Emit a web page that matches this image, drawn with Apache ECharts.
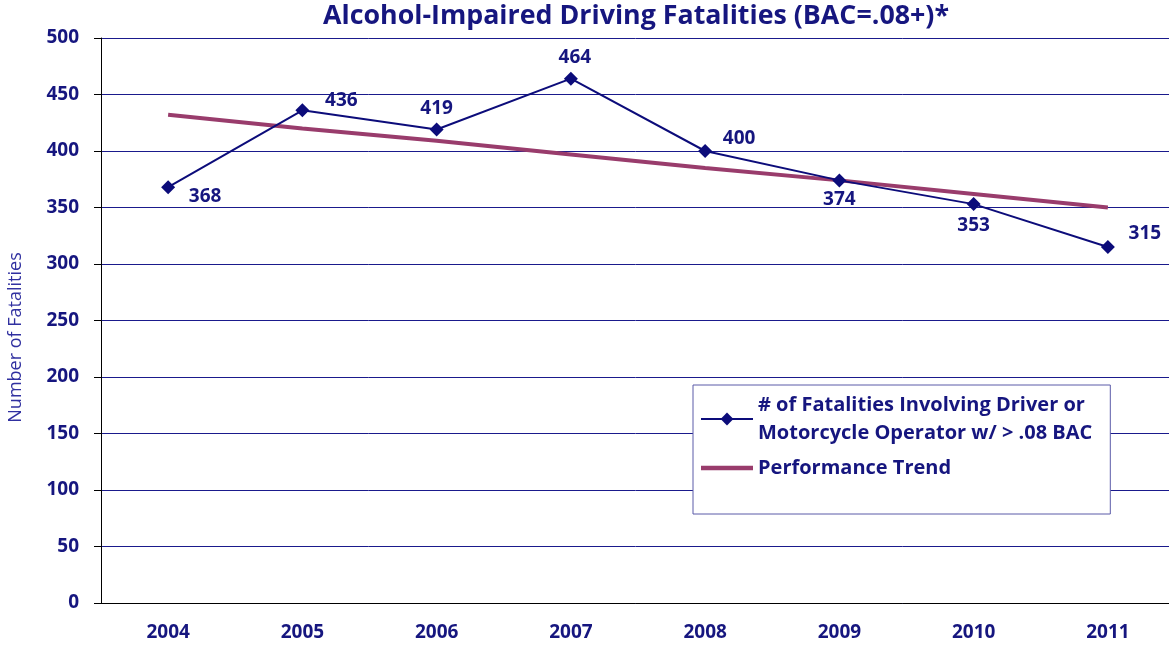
<!DOCTYPE html>
<html>
<head>
<meta charset="utf-8">
<title>Alcohol-Impaired Driving Fatalities</title>
<script src="https://cdn.jsdelivr.net/npm/echarts@6/dist/echarts.min.js"></script>
<style>
  html, body { margin: 0; padding: 0; background: #fff; }
  #chart { width: 1169px; height: 645px; }
</style>
</head>
<body>
<div id="chart"></div>
<script>
// 数据
const years = ["2004", "2005", "2006", "2007", "2008", "2009", "2010", "2011"];
const fatalities = [368, 436, 419, 464, 400, 374, 353, 315];
const trend = [432, 420, 409, 397, 385, 374, 362, 350];
const yTicks = [0, 50, 100, 150, 200, 250, 300, 350, 400, 450, 500];

const navy = "#16167f";
const font = "'Open Sans', Lato, sans-serif";

// 每个数据标签的偏移
const labelOffsets = [[37, 9], [39, -10], [0, -21], [4, -21], [34, -12], [0, 19], [0, 21], [37, -13]];

const myChart = echarts.init(document.getElementById("chart"));

const option = {
  animation: false,
  title: {
    text: "Alcohol-Impaired Driving Fatalities (BAC=.08+)*",
    left: 305,
    top: 3,
    padding: [0, 72, 0, 18],
    backgroundColor: "#fff",
    textStyle: { color: navy, fontFamily: font, fontWeight: "bold", fontSize: 26.8 },
  },
  legend: {
    orient: "vertical",
    left: 693,
    top: 385,
    padding: [6, 18, 32, 7],
    itemGap: 7,
    itemWidth: 52,
    itemHeight: 16,
    backgroundColor: "#fff",
    borderColor: "#5a5aa8",
    borderWidth: 1,
    textStyle: { color: navy, fontFamily: font, fontWeight: "bold", fontSize: 20, lineHeight: 28 },
    data: [
      { name: "# of Fatalities Involving Driver or\nMotorcycle Operator w/ > .08 BAC" },
      { name: "Performance Trend", icon: "path://M0,0 H52 V4.5 H0 Z" },
    ],
  },
  grid: { left: 101, right: -6, top: 38, bottom: 42, outerBoundsMode: "none" },
  xAxis: {
    type: "category",
    data: years,
    boundaryGap: true,
    axisLine: { lineStyle: { color: "#000", width: 1 } },
    axisTick: { length: 7, lineStyle: { color: "#000" } },
    axisLabel: { color: navy, fontFamily: font, fontWeight: "bold", fontSize: 19, margin: 20 },
  },
  yAxis: {
    type: "value",
    min: yTicks[0],
    max: yTicks[yTicks.length - 1],
    interval: yTicks[1] - yTicks[0],
    name: "Number of Fatalities",
    nameLocation: "middle",
    nameGap: 76,
    nameTextStyle: { color: "#3030a0", fontFamily: font, fontSize: 18, padding: [0, 34, 0, 0] },
    axisLine: { show: true, lineStyle: { color: "#000", width: 1 } },
    axisTick: { show: true, length: 7, lineStyle: { color: "#000" } },
    axisLabel: { color: navy, fontFamily: font, fontWeight: "bold", fontSize: 19, margin: 22 },
    splitLine: { lineStyle: { color: "#1a1a8c", width: 1 } },
  },
  series: [
    {
      name: "# of Fatalities Involving Driver or\nMotorcycle Operator w/ > .08 BAC",
      type: "line",
      data: fatalities.map((v, i) => ({
        value: v,
        label: { offset: labelOffsets[i] },
      })),
      symbol: "diamond",
      symbolSize: 14,
      z: 3,
      lineStyle: { color: "#0c0c7a", width: 2 },
      itemStyle: { color: "#0c0c7a" },
      label: {
        show: true,
        position: "inside",
        color: navy,
        fontFamily: font,
        fontWeight: "bold",
        fontSize: 19,
      },
    },
    {
      name: "Performance Trend",
      type: "line",
      data: trend,
      symbol: "none",
      z: 2,
      lineStyle: { color: "#993c6c", width: 4 },
      itemStyle: { color: "#993c6c" },
    },
  ],
};

myChart.setOption(option);

window.addEventListener("resize", function () {
  myChart.resize();
});
</script>
</body>
</html>
